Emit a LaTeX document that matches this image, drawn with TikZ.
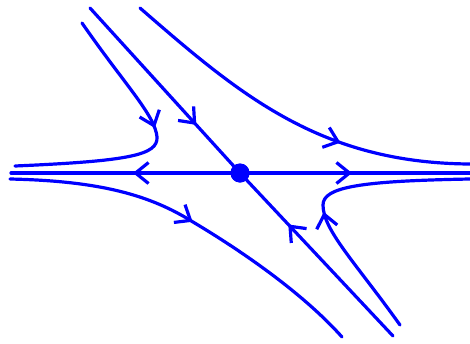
\documentclass[tikz,border=0pt]{standalone}
\usetikzlibrary{arrows.meta,decorations.markings}
\definecolor{trajblue}{RGB}{0,0,255}
\tikzset{
  traj/.style={draw=trajblue, color=trajblue, line width=3.2pt, line cap=round},
  arrowat/.style={postaction={decorate}, decoration={markings,
    mark=at position #1 with {\arrow{Straight Barb[length=13pt,width=21pt,line width=3.2pt]}}}},
  saddle/.style={circle, fill=trajblue, minimum size=19pt, inner sep=0pt}
}
\begin{document}
\begin{tikzpicture}[x=1pt,y=-1pt]
\useasboundingbox (0,0) rectangle (470,343);
\node[saddle] (S) at (240,173) {};
\coordinate (HL) at (11,173);
\coordinate (HR) at (470,173);
\coordinate (DTL) at (90,8);
\coordinate (DBR) at (393,336);
% separatrices
\draw[traj, arrowat=107pt] (S.center) -- (HL);
\draw[traj, arrowat=112pt] (S.center) -- (HR);
\draw[traj, arrowat=158pt] (DTL) -- (S.center);
\draw[traj, arrowat=153pt] (DBR) -- (S.center);
% trajectories
\coordinate (a0) at (82,23);
\coordinate (a1) at (157,137);
\coordinate (a2) at (15,166);
\draw[traj, arrowat=128pt] (a0) .. controls (125,85) and (155,115) .. (a1)
   .. controls (158,155) and (130,161) .. (a2);
\coordinate (b0) at (140,8);
\coordinate (b1) at (470,164);
\draw[traj, arrowat=243pt] (b0) .. controls (240,95) and (320,163) .. (b1);
\coordinate (c0) at (10,179);
\coordinate (c1) at (193,222);
\coordinate (c2) at (342,337);
\draw[traj, arrowat=190pt] (c0) .. controls (100,181) and (150,195) .. (c1)
   .. controls (235,247) and (300,290) .. (c2);
\coordinate (d0) at (400,325);
\coordinate (d1) at (323,205);
\coordinate (d2) at (470,179);
\draw[traj, arrowat=137pt] (d0) .. controls (355,262) and (323,230) .. (d1)
   .. controls (323,187) and (360,181) .. (d2);
\fill[trajblue] (S) circle (9.5pt);
\end{tikzpicture}
\end{document}
